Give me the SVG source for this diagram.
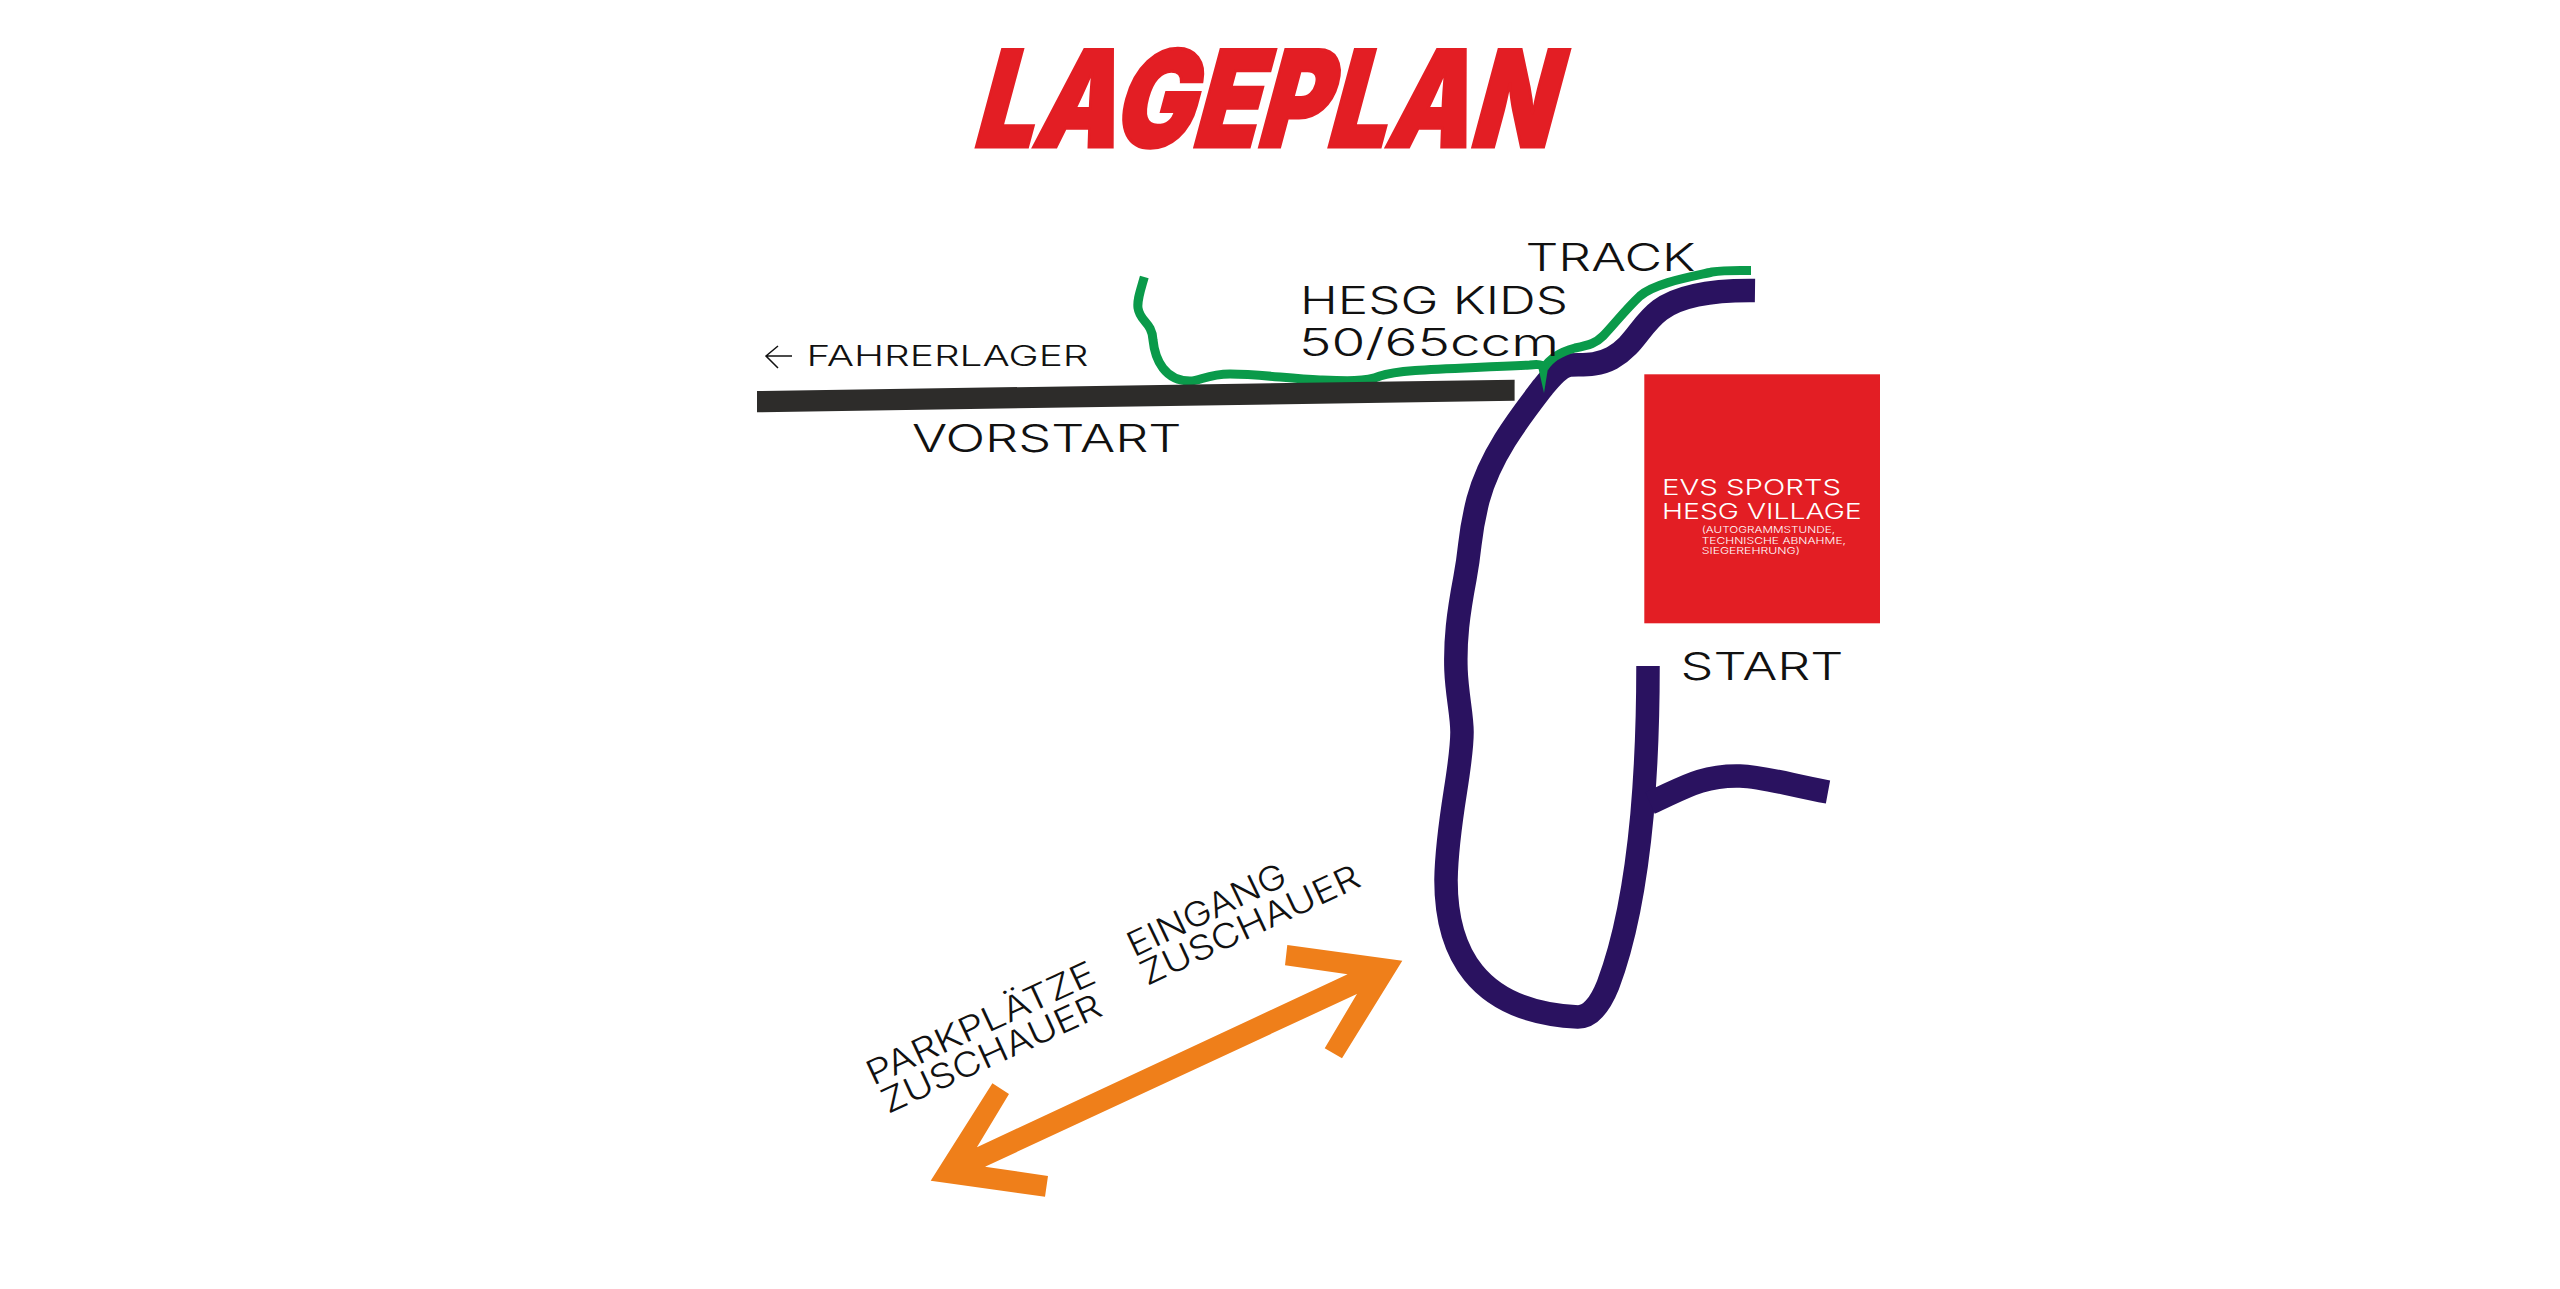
<svg xmlns="http://www.w3.org/2000/svg" width="2560" height="1289" viewBox="0 0 2560 1289">
<style>
text{font-family:"Inter","Liberation Sans",Arial,sans-serif;font-weight:300;fill:#111}
.t{font-size:38px}
.r{font-size:34px}
.title{font-size:134px;font-weight:900;fill:#e31e24;stroke:#e31e24;stroke-width:3px;stroke-linejoin:miter}
.w{fill:#fff}
.navy{fill:none;stroke:#2a1260;stroke-width:23.5}
.green{fill:none;stroke:#0a9a4a;stroke-width:9}
</style>
<rect width="2560" height="1289" fill="#fff"/>
<g id="connectors">
<path class="navy" d="M1755 290.5C1715 290 1680 295 1660 310C1640 325 1635 345 1612 358C1595 367 1580 364 1570 365C1560 366 1552 376 1543 387C1520 417 1490 455 1478 500C1468 540 1472 540 1465 578C1458 615 1455 640 1456 670C1457 695 1462 715 1462 732C1462 770 1447 820 1446 880C1446 950 1475 1012 1578 1017C1590 1017 1600 1005 1608 985C1625 940 1636 880 1642 815C1646 770 1648 720 1648 666"/>
<path class="navy" d="M1650 803C1680 790 1700 775 1740 776C1765 777 1790 785 1828 792"/>
<path class="green" d="M1144.3 277C1140 292 1137 300 1138 308C1140 322 1152 322 1153 340C1155 360 1165 381 1190 381C1200 381 1208 374 1230 374C1260 374 1290 379 1320 380C1345 381 1365 382 1380 376C1400 369 1450 369 1530 365C1536 364 1543 364 1545 368"/>
<path class="green" d="M1544 368C1550 358 1560 352 1575 348C1590 345 1596 343 1603 336C1612 327 1625 310 1640 296C1655 283 1690 277 1712 272C1725 270 1735 270.5 1751 270.5"/>
<polygon points="1537,362 1544,393 1549,362" fill="#0a9a4a"/>
</g>
<g id="title"><text class="title" transform="translate(971 147) skewX(-15)" x="0" y="0" textLength="578" lengthAdjust="spacingAndGlyphs">LAGEPLAN</text></g>
<g id="fahrerlager">
<path d="M792 356H766M778 346L766 356L778 368" fill="none" stroke="#111" stroke-width="1.5"/>
<text x="806.6" y="365.5" font-size="28" textLength="282" lengthAdjust="spacingAndGlyphs">FAHRERLAGER</text>
</g>
<g id="vorstart">
<polygon points="757,391 1514.6,379.7 1514.6,400.7 757,412.3" fill="#2d2c2a"/>
<text class="t" x="912" y="452" textLength="269.5" lengthAdjust="spacingAndGlyphs">VORSTART</text>
</g>
<g id="track-label"><text class="t" x="1525.5" y="270.5" textLength="170" lengthAdjust="spacingAndGlyphs">TRACK</text></g>
<g id="kids-label">
<text class="t" x="1300" y="313.5" textLength="268" lengthAdjust="spacingAndGlyphs">HESG KIDS</text>
<text class="t" x="1299" y="355.5" textLength="260" lengthAdjust="spacingAndGlyphs">50/65ccm</text>
</g>
<g id="village">
<rect x="1644.3" y="374.3" width="235.7" height="249" fill="#e31e24"/>
<text class="w" x="1662" y="494.5" font-size="22" textLength="179" lengthAdjust="spacingAndGlyphs">EVS SPORTS</text>
<text class="w" x="1662" y="518.5" font-size="22" textLength="199.7" lengthAdjust="spacingAndGlyphs">HESG VILLAGE</text>
<text class="w" x="1701.7" y="533.3" font-size="9.5" textLength="133.3" lengthAdjust="spacingAndGlyphs">(AUTOGRAMMSTUNDE,</text>
<text class="w" x="1701.7" y="543.7" font-size="9.5" textLength="144.3" lengthAdjust="spacingAndGlyphs">TECHNISCHE ABNAHME,</text>
<text class="w" x="1701.7" y="554" font-size="9.5" textLength="98.3" lengthAdjust="spacingAndGlyphs">SIEGEREHRUNG)</text>
</g>
<g id="start-label"><text x="1680.5" y="679.5" font-size="38" textLength="163" lengthAdjust="spacingAndGlyphs">START</text></g>
<g id="spectators">
<polygon points="1402.3,960.7 1287.3,945 1285,965.3 1347.6,974.3 976.9,1147.3 1009,1094 992.4,1083.3 930.7,1180.7 1045,1196.7 1048,1176 985,1166.7 1356.9,994 1324.7,1048.3 1342,1058.3" fill="#ef7f1a"/>
<text class="r" transform="translate(873 1086) rotate(-24.8)" textLength="248" lengthAdjust="spacingAndGlyphs">PARKPLÄTZE</text>
<text class="r" transform="translate(888 1114) rotate(-24.6)" textLength="238" lengthAdjust="spacingAndGlyphs">ZUSCHAUER</text>
<text class="r" transform="translate(1134 957.5) rotate(-25.5)" textLength="172" lengthAdjust="spacingAndGlyphs">EINGANG</text>
<text class="r" transform="translate(1147 986) rotate(-25)" textLength="238" lengthAdjust="spacingAndGlyphs">ZUSCHAUER</text>
</g>
</svg>
